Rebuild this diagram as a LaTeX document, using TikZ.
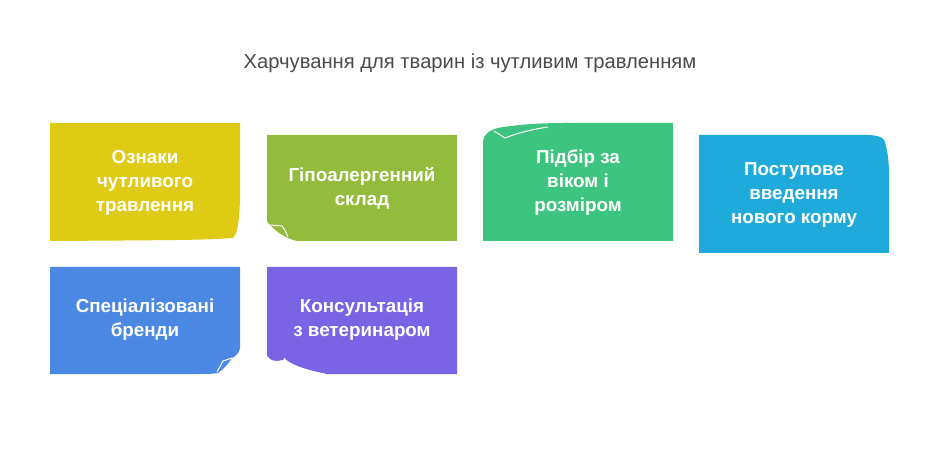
\documentclass[tikz,border=0pt]{standalone}
\usepackage{fontspec}
\setmainfont{Liberation Sans}
\definecolor{cA}{HTML}{DFCB14}
\definecolor{cB}{HTML}{93BC3C}
\definecolor{cC}{HTML}{3DC47E}
\definecolor{cD}{HTML}{1EAADB}
\definecolor{cE}{HTML}{4B88E3}
\definecolor{cF}{HTML}{7B63E6}
\definecolor{ttl}{HTML}{4A4A4A}
\tikzset{
  lbl/.style={text=white, font=\fontsize{18.8}{24}\selectfont\bfseries, align=center, inner sep=0pt},
  fold/.style={draw=white, line width=1pt},
}
\begin{document}
\begin{tikzpicture}[x=1pt,y=-1pt]
\useasboundingbox[fill=white] (0,0) rectangle (940,449);
\node[text=ttl, font=\fontsize{20.2}{24}\selectfont, anchor=base] (title) at (470,69) {Харчування для тварин із чутливим травленням};

% box 1: bottom-right curl
\fill[cA] (50,123) -- (240,123) -- (240,200) .. controls (239,225) and (237,234) .. (233,238) .. controls (200,240) .. (50,241) -- cycle;
\node[lbl] (b1) at (145,183) {Ознаки\\чутливого\\травлення};

% box 2: bottom-left curl
\fill[cB] (267,135) -- (457,135) -- (457,241) -- (297,241) .. controls (284,238) and (276,231) .. (270,225) .. controls (267,222) .. (267,218) -- cycle;
\draw[fold] (270,225) .. controls (276,225) .. (282,226) .. controls (285,230) .. (288,237);
\node[lbl] (b2) at (362,188) {Гіпоалергенний\\склад};

% box 3: top-left curl
\fill[cC] (673,123) -- (673,241) -- (483,241) -- (483,141) .. controls (484,134) and (490,130) .. (498,128) .. controls (520,124) and (545,123) .. (565,123) -- cycle;
\draw[fold] (494,131) .. controls (499,134) .. (505,138) .. controls (520,132) and (535,129) .. (548,127);
\node[lbl] (b3) at (578,183) {Підбір за\\віком і\\розміром};

% box 4: top-right droop
\fill[cD] (699,135) -- (870,135) .. controls (880,136) and (884,138) .. (885,142) .. controls (888,155) .. (889,170) -- (889,253) -- (699,253) -- cycle;
\node[lbl] (b4) at (794,195) {Поступове\\введення\\нового корму};

% box 5: bottom-right curl
\fill[cE] (50,267) -- (240,267) -- (240,348) .. controls (239,353) and (236,356) .. (232,358) .. controls (228,364) and (224,369) .. (218,373) .. controls (210,374) .. (195,374) -- (50,374) -- cycle;
\draw[fold] (232,358) .. controls (227,359) .. (223,361) .. controls (220,366) .. (217,372);
\node[lbl] (b5) at (145,320) {Спеціалізовані\\бренди};

% box 6: bottom-left curl
\fill[cF] (267,267) -- (457,267) -- (457,374) -- (325,374) .. controls (308,370) and (294,366) .. (285,359) .. controls (281,361) and (274,362) .. (270,359) .. controls (267,357) .. (267,350) -- cycle;
\draw[fold] (284,358) .. controls (286,361) .. (288,364) .. controls (300,368) and (312,372) .. (325,374);
\node[lbl] (b6) at (362,320) {Консультація\\з ветеринаром};
\end{tikzpicture}
\end{document}
